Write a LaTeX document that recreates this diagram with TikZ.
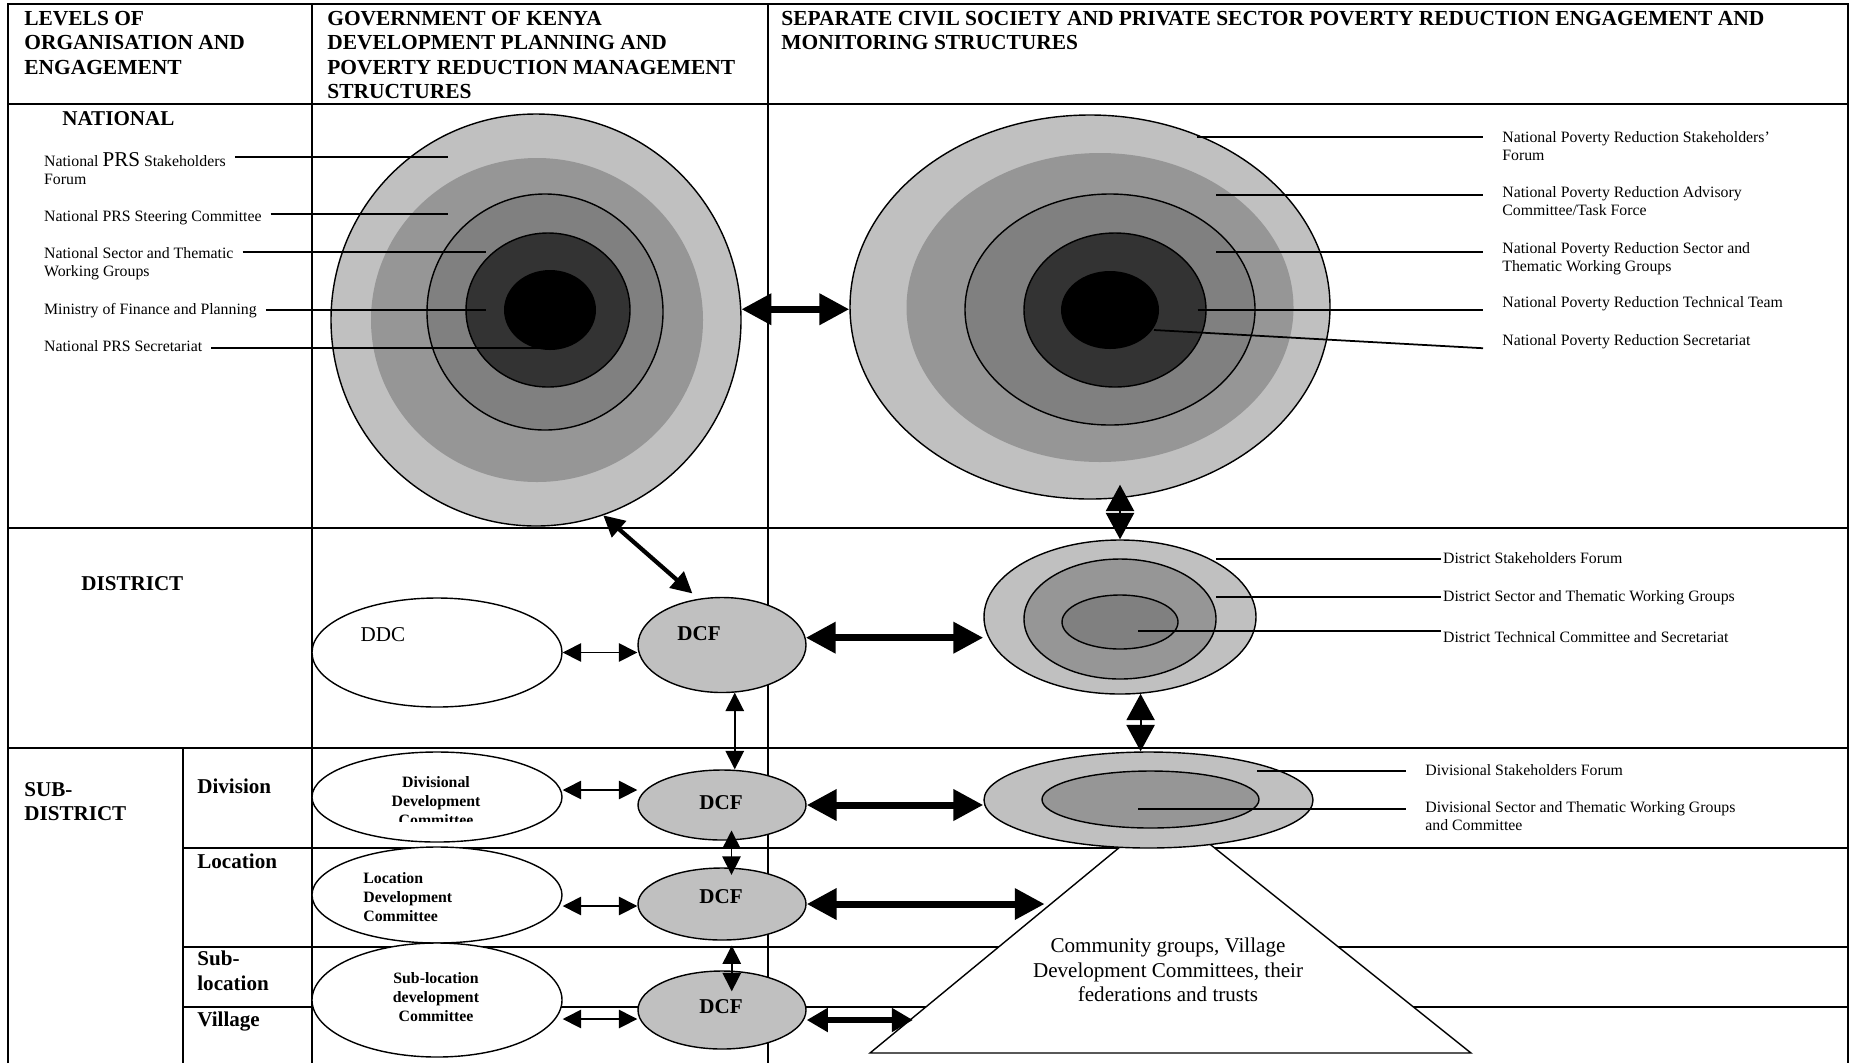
\documentclass[tikz,border=0pt]{standalone}
\usepackage{fontspec}
\setmainfont{Liberation Serif}
\usetikzlibrary{arrows.meta,shapes.geometric,calc}

\definecolor{shadeA}{HTML}{C0C0C0}
\definecolor{shadeB}{HTML}{969696}
\definecolor{shadeC}{HTML}{808080}
\definecolor{shadeD}{HTML}{333333}

\newcommand{\labrows}[1]{\begin{tabular}[t]{@{}l@{}}#1\end{tabular}}

\tikzset{
  rule/.style={line width=1.2pt},
  ring/.style 2 args={ellipse, inner sep=0pt, line width=0.8pt, minimum width=#1*0.4mm, minimum height=#2*0.4mm},
  leader/.style={line width=1pt},
  lab/.style={inner ysep=0pt, inner xsep=5pt, font=\fontsize{9}{10.7}\selectfont},
  level/.style={inner sep=0pt, font=\fontsize{12}{14}\selectfont\bfseries},
  head/.style={inner sep=0pt, font=\fontsize{12.2}{14}\selectfont\bfseries},
  boxtext/.style={inner sep=0pt, align=center, font=\fontsize{9}{10.7}\selectfont\bfseries},
  dcftext/.style={inner sep=0pt, font=\fontsize{12}{14}\selectfont\bfseries},
  bigarrow/.style={line width=4pt, {Triangle[length=17pt,width=17pt]}-{Triangle[length=17pt,width=17pt]}},
  midarrow/.style={line width=3pt, {Triangle[length=12pt,width=13pt]}-{Triangle[length=12pt,width=13pt]}},
  diagarrow/.style={line width=2.4pt, {Triangle[length=12pt,width=12pt]}-{Triangle[length=12pt,width=12pt]}},
  civarrow/.style={line width=1.1pt, {Triangle[length=15pt,width=16pt]}-{Triangle[length=15pt,width=16pt]}},
  smallarrow/.style={line width=0.9pt, {Triangle[length=10.5pt,width=10.5pt]}-{Triangle[length=10.5pt,width=10.5pt]}}
}

\begin{document}
\begin{tikzpicture}[x=0.2mm,y=-0.2mm]
\useasboundingbox (0,0) rectangle (1853,1063);

\draw[rule] (8,1063) -- (8,4) -- (1848,4) -- (1848,1063);
\draw[rule] (8,104) -- (1848,104);
\draw[rule] (8,528) -- (1848,528);
\draw[rule] (8,748) -- (1848,748);
\draw[rule] (312,4) -- (312,1063);
\draw[rule] (768,4) -- (768,1063);
\draw[rule] (183,748) -- (183,1063);
\foreach \y in {848,947,1007} \draw[rule] (183,\y) -- (1848,\y);

\node[head, anchor=base west] (hLevel) at (24,25) {\labrows{LEVELS OF\\ORGANISATION AND\\ENGAGEMENT}};
\node[head, anchor=base west] (hGov) at (327,25) {\labrows{GOVERNMENT OF KENYA\\DEVELOPMENT PLANNING AND\\POVERTY REDUCTION MANAGEMENT\\STRUCTURES}};
\node[head, anchor=base west] (hCivil) at (781,25) {\labrows{SEPARATE CIVIL SOCIETY AND PRIVATE SECTOR POVERTY REDUCTION ENGAGEMENT AND\\MONITORING STRUCTURES}};

\node[level, anchor=base west] (lvNational) at (62,125) {NATIONAL};
\node[level, anchor=base west] (lvDistrict) at (81,590) {DISTRICT};
\node[level, anchor=base west] (lvSubDistrict) at (24,796) {\labrows{SUB-\\DISTRICT}};
\node[level, anchor=base west] (lvDivision) at (197,793) {Division};
\node[level, anchor=base west] (lvLocation) at (197,868) {Location};
\node[level, anchor=base west] (lvSubLocation) at (197,965) {\labrows{Sub-\\[0.7pt]location}};
\node[level, anchor=base west] (lvVillage) at (197,1026) {Village};

\node[ring={205}{206}, draw, fill=shadeA] (natG) at (536,320) {};
\node[ring={166}{162}, fill=shadeB] (natG2) at (537,320) {};
\node[ring={118}{118}, draw, fill=shadeC] (natG3) at (545,312) {};
\node[ring={82}{77}, draw, fill=shadeD] (natG4) at (548,310) {};
\node[ring={46}{40}, fill=black] (natG5) at (550,310) {};

\node[ring={240}{192}, draw, fill=shadeA] (natC) at (1090,307) {};
\node[ring={193.5}{154.5}, fill=shadeB] (natC2) at (1100,307.5) {};
\node[ring={145}{115.5}, draw, fill=shadeC] (natC3) at (1110,309.5) {};
\node[ring={91}{77}, draw, fill=shadeD] (natC4) at (1115,310) {};
\node[ring={49}{39}, fill=black] (natC5) at (1110,310) {};

\node[ring={125}{54.5}, draw, fill=white] (ddc) at (437,652.5) {};
\node[inner sep=0pt, font=\fontsize{12}{14}\selectfont] (ddcText) at (383,635) {DDC};
\node[ring={84}{47.5}, draw, fill=shadeA] (dcfD) at (722,645) {};
\node[dcftext] (dcfDText) at (699,634) {DCF};

\node[ring={136}{77}, draw, fill=shadeA] (disC) at (1120,617) {};
\node[ring={96}{60}, draw, fill=shadeB] (disC2) at (1120,619) {};
\node[ring={58}{27}, draw, fill=shadeC] (disC3) at (1120,622) {};

\node[ring={125}{45}, draw, fill=white] (divDC) at (437,797) {};
\begin{scope}
\clip (312,752) rectangle (562,821);
\node[boxtext] (divDCText) at (436,801) {Divisional\\Development\\Committee};
\end{scope}
\node[ring={84}{35}, draw, fill=shadeA] (dcfV) at (722,805) {};
\node[dcftext] (dcfVText) at (721,803) {DCF};

\node[ring={125}{48}, draw, fill=white] (locDC) at (437,895) {};
\node[boxtext, align=left, anchor=west] (locDCText) at (363,897) {Location\\Development\\Committee};
\node[ring={84}{36}, draw, fill=shadeA] (dcfL) at (722,904) {};
\node[dcftext] (dcfLText) at (721,897) {DCF};

\node[ring={125}{57}, draw, fill=white] (subDC) at (437,1000) {};
\node[boxtext] (subDCText) at (436,997) {Sub-location\\development\\Committee};
\node[ring={84}{39}, draw, fill=shadeA] (dcfS) at (722,1010) {};
\node[dcftext] (dcfSText) at (721,1007) {DCF};

\coordinate (apex) at (1166,809);
\coordinate (baseL) at (870,1053);
\coordinate (baseR) at (1471,1053);
\filldraw[fill=white, line width=0.8pt] (apex) -- (baseL) -- (baseR) -- cycle;
\node[inner sep=0pt, align=center, font=\fontsize{12}{13.9}\selectfont] (community) at (1168,970) {Community groups, Village\\Development Committees, their\\federations and trusts};

\node[ring={164.5}{48}, draw, fill=shadeA] (divC) at (1148.5,800) {};
\node[ring={108.5}{28.5}, draw, fill=shadeB] (divC2) at (1150.5,799.5) {};

\node[lab, anchor=base west] (gStake) at (35,166) {\labrows{National {\fontsize{12}{14}\selectfont PRS} Stakeholders\\Forum}};
\node[lab, anchor=base west] (gSteer) at (35,221) {National PRS Steering Committee};
\node[lab, anchor=base west] (gSector) at (35,258) {\labrows{National Sector and Thematic\\Working Groups}};
\node[lab, anchor=base west] (gMinistry) at (35,314) {Ministry of Finance and Planning};
\node[lab, anchor=base west] (gSecr) at (35,351) {National PRS Secretariat};
\coordinate (gk1) at (448,157);
\coordinate (gk2) at (448,214);
\coordinate (gk3) at (486,252);
\coordinate (gk4) at (486,310);
\coordinate (gk5) at (548,348);
\draw[leader] (gStake.east |- gk1) -- (gk1);
\draw[leader] (gSteer.east |- gk2) -- (gk2);
\draw[leader] (gSector.east |- gk3) -- (gk3);
\draw[leader] (gMinistry.east |- gk4) -- (gk4);
\draw[leader] (gSecr.east |- gk5) -- (gk5);

\node[lab, inner xsep=10.8pt, anchor=base west] (cStake) at (1483,142) {\labrows{National Poverty Reduction Stakeholders'\\Forum}};
\node[lab, inner xsep=10.8pt, anchor=base west] (cAdvisory) at (1483,197) {\labrows{National Poverty Reduction Advisory\\Committee/Task Force}};
\node[lab, inner xsep=10.8pt, anchor=base west] (cSector) at (1483,253) {\labrows{National Poverty Reduction Sector and\\Thematic Working Groups}};
\node[lab, inner xsep=10.8pt, anchor=base west] (cTech) at (1483,307) {National Poverty Reduction Technical Team};
\node[lab, inner xsep=10.8pt, anchor=base west] (cSecr) at (1483,345) {National Poverty Reduction Secretariat};
\coordinate (ck1) at (1197,137);
\coordinate (ck2) at (1216,195);
\coordinate (ck3) at (1216,252);
\coordinate (ck4) at (1197.5,310);
\coordinate (ck5) at (1154,330);
\draw[leader] (ck1) -- (ck1 -| cStake.west);
\draw[leader] (ck2) -- (ck2 -| cAdvisory.west);
\draw[leader] (ck3) -- (ck3 -| cSector.west);
\draw[leader] (ck4) -- (ck4 -| cTech.west);
\draw[leader] (ck5) -- ($(cSecr.west)+(0,7)$);

\node[lab, inner xsep=1pt, anchor=base west] (dStake) at (1441,563.5) {District Stakeholders Forum};
\node[lab, inner xsep=1pt, anchor=base west] (dSector) at (1441,601) {District Sector and Thematic Working Groups};
\node[lab, inner xsep=1pt, anchor=base west] (dTech) at (1441,642.5) {District Technical Committee and Secretariat};
\coordinate (dk1) at (1216,559);
\coordinate (dk2) at (1216,597);
\coordinate (dk3) at (1138,631);
\draw[leader] (dk1) -- (dk1 -| dStake.west);
\draw[leader] (dk2) -- (dk2 -| dSector.west);
\draw[leader] (dk3) -- (dk3 -| dTech.west);

\node[lab, inner xsep=10.8pt, anchor=base west] (vStake) at (1406,775) {Divisional Stakeholders Forum};
\node[lab, inner xsep=10.8pt, anchor=base west] (vSector) at (1406,812) {\labrows{Divisional Sector and Thematic Working Groups\\and Committee}};
\coordinate (vk1) at (1257,771);
\coordinate (vk2) at (1138,809);
\draw[leader] (vk1) -- (vk1 -| vStake.west);
\draw[leader] (vk2) -- (vk2 -| vSector.west);

\draw[bigarrow] (natG.3) -- (natG.3 -| natC.west);
\draw[diagarrow, shorten >=1.6mm] (natG.-71) -- (dcfD.117);
\draw[civarrow] (disC.north) -- ($(natC.south -| disC.north)+(0,-15)$);
\draw[civarrow] (disC.-75) -- (disC.-75 |- divC.north);

\draw[smallarrow] (ddc.east) -- (ddc.east -| dcfD.west);
\draw[smallarrow] ($(divDC.east)+(0,-7)$) -- ($(divDC.east -| dcfV.west)+(0,-7)$);
\draw[smallarrow] ($(locDC.east)+(0,11)$) -- ($(locDC.east -| dcfL.west)+(0,11)$);
\draw[smallarrow] ($(subDC.east)+(0,19)$) -- ($(subDC.east -| dcfS.west)+(0,19)$);

\draw[smallarrow] (dcfD.-75) -- (dcfD.-75 |- dcfV.north);
\draw[smallarrow] ($(dcfV.-75)+(0,-10)$) -- ($(dcfV.-75 |- dcfL.north)+(0,7.5)$);
\draw[smallarrow] ($(dcfL.-75)+(0,5)$) -- ($(dcfL.-75 |- dcfS.north)+(0,21)$);

\draw[bigarrow] (dcfD.5) -- (dcfD.5 -| disC.west);
\draw[bigarrow] (dcfV.east) -- (dcfV.east -| divC.west);
\coordinate (triA) at ($(apex)!0.41!(baseL)$);
\coordinate (triB) at ($(apex)!0.855!(baseL)$);
\draw[bigarrow] (dcfL.east) -- (dcfL.east -| triA);
\draw[midarrow] ($(dcfS.east)+(0,10)$) -- ($(dcfS.east -| triB)+(0,10)$);
\end{tikzpicture}
\end{document}
